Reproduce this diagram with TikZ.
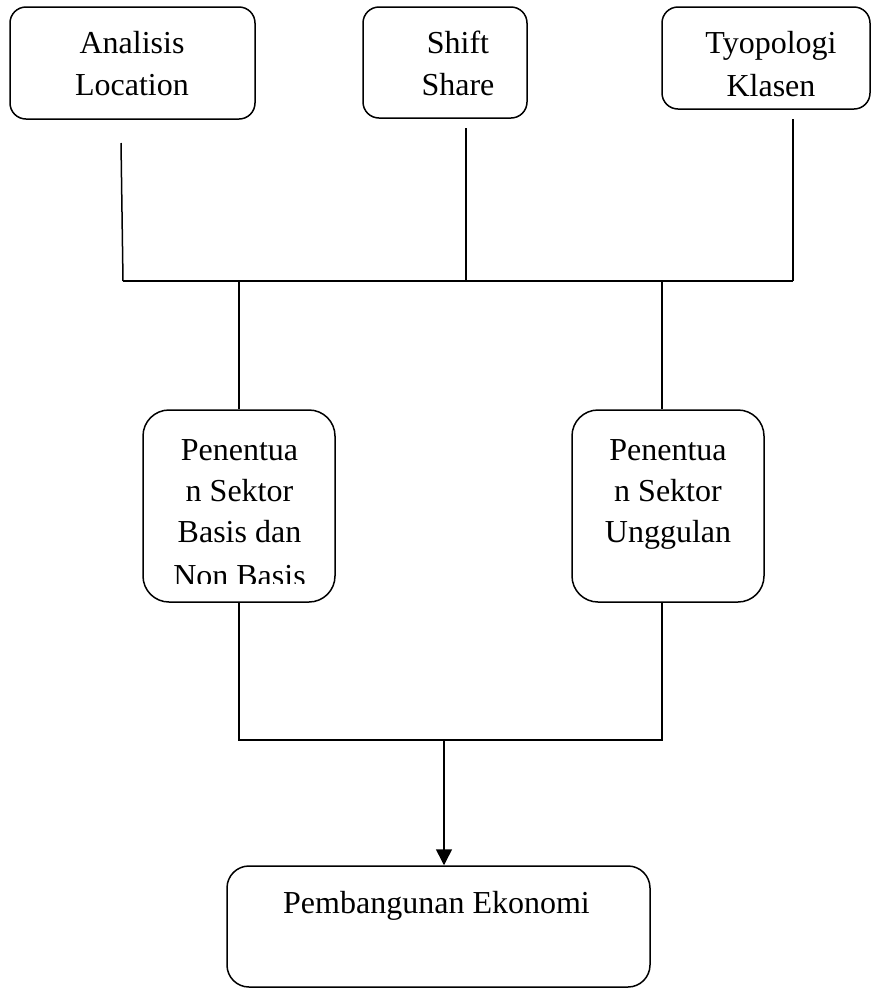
\documentclass[tikz,border=0pt]{standalone}
\usepackage{fontspec}
\setmainfont{Liberation Serif}
\usetikzlibrary{arrows.meta}
\tikzset{
  box/.style={draw, line width=1.5pt, rounded corners=16pt, inner sep=0pt},
  bigbox/.style={box, rounded corners=26pt},
  txt/.style={anchor=base, inner sep=0pt, font=\fontsize{32}{42}\selectfont},
  conn/.style={line width=1.5pt},
}
\begin{document}
\begin{tikzpicture}[x=1pt,y=-1pt]
\useasboundingbox (0,0) rectangle (872,989);
% boxes
\node[box, minimum width=245pt, minimum height=112pt] (b1) at (132.5,63) {};
\node[box, minimum width=164pt, minimum height=111pt] (b2) at (445,62.5) {};
\node[box, minimum width=208pt, minimum height=102pt] (b3) at (766,58) {};
\node[bigbox, minimum width=192pt, minimum height=192pt] (b4) at (239,506) {};
\node[bigbox, minimum width=192pt, minimum height=192pt] (b5) at (668,506) {};
\node[box, rounded corners=22pt, minimum width=423pt, minimum height=121pt] (b6) at (438.5,926.5) {};
% texts
\node[txt] (t1a) at (132,53) {Analisis};
\node[txt] (t1b) at (132,95) {Location};
\node[txt] (t2a) at (458,53) {Shift};
\node[txt] (t2b) at (458,95) {Share};
\node[txt] (t3a) at (771,53) {Tyopologi};
\node[txt] (t3b) at (771,96) {Klasen};
\node[txt] (t4a) at (239.5,460) {Penentua};
\node[txt] (t4b) at (239.5,501) {n Sektor};
\node[txt] (t4c) at (239.5,542) {Basis dan};
\begin{scope}
  \clip (150,550) rectangle (330,583);
  \node[txt] (t4d) at (239.5,586) {Non Basis};
\end{scope}
\node[txt] (t5a) at (668,460) {Penentua};
\node[txt] (t5b) at (668,501) {n Sektor};
\node[txt] (t5c) at (668,542) {Unggulan};
\node[txt] (t6) at (436.5,913) {Pembangunan Ekonomi};
% connector coordinates
\coordinate (l1top) at (121,143);
\coordinate (l1bot) at (123,281);
\coordinate (l2top) at (466,128);
\coordinate (l2bot) at (466,281);
\coordinate (l3top) at (793,119);
\coordinate (l3bot) at (793,281);
\coordinate (j4) at (239,281);
\coordinate (j5) at (662,281);
\coordinate (k4) at (239,740);
\coordinate (k5) at (662,740);
\coordinate (kc) at (444,740);
% top connectors
\draw[conn] (l1top) -- (l1bot);
\draw[conn] (l2top) -- (l2bot);
\draw[conn] (l3top) -- (l3bot);
\draw[conn] (l1bot) -- (l3bot);
\draw[conn] (j4) -- (j4 |- b4.north);
\draw[conn] (j5) -- (j5 |- b5.north);
% bottom connectors
\draw[conn] (k4 |- b4.south) -- (k4) -- (k5) -- (k5 |- b5.south);
\draw[conn, -{Triangle[length=16pt,width=16pt]}] (kc) -- (kc |- b6.north);
\end{tikzpicture}
\end{document}
